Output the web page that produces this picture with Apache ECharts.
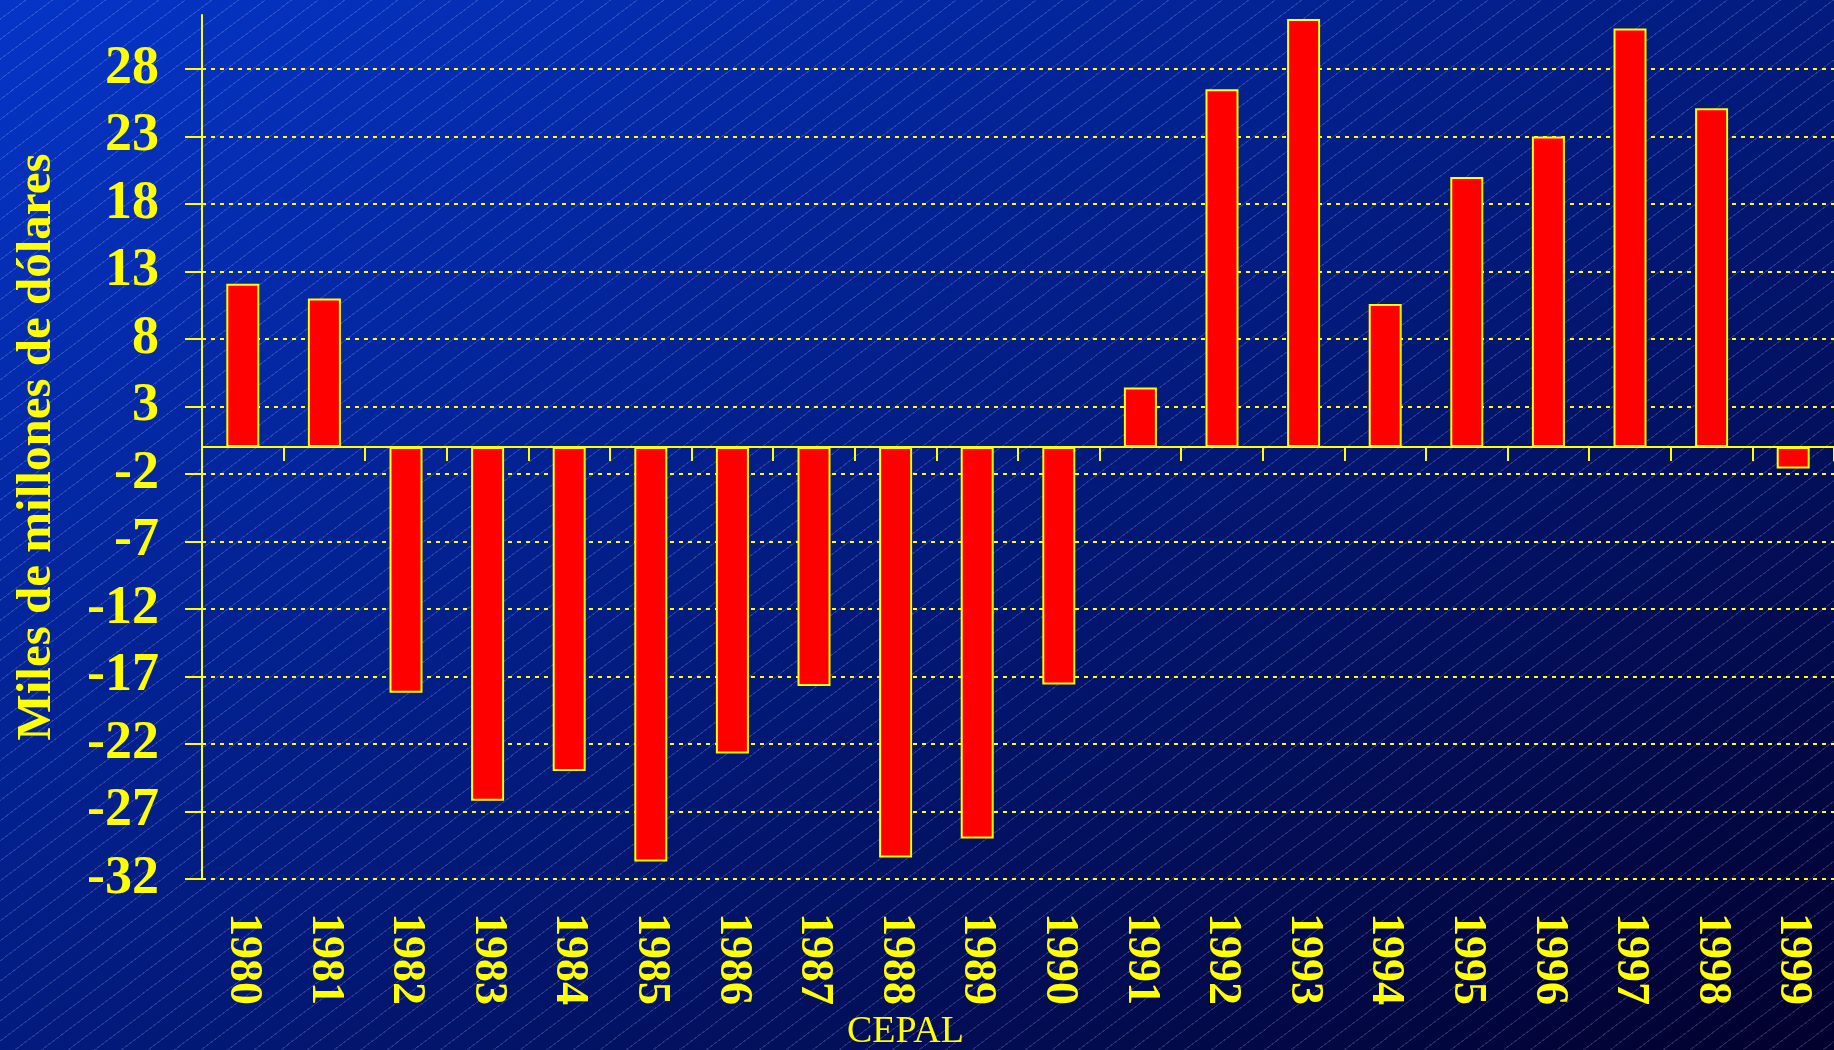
<!DOCTYPE html>
<html>
<head>
<meta charset="utf-8">
<title>Saldo - CEPAL</title>
<script src="https://cdn.jsdelivr.net/npm/echarts@6/dist/echarts.min.js"></script>
<style>
  html, body { margin: 0; padding: 0; }
  #chart {
    width: 1834px;
    height: 1050px;
    background:
      repeating-linear-gradient(143deg, transparent 0, transparent 15px,
        rgba(190, 200, 255, 0.2) 15px, rgba(190, 200, 255, 0.2) 16px),
      linear-gradient(to bottom right, #0535c8 0%, #021b7e 50%, #02002c 100%);
  }
</style>
</head>
<body>
<div id="chart"></div>
<script>
const years = ['1980', '1981', '1982', '1983', '1984', '1985', '1986', '1987', '1988', '1989',
  '1990', '1991', '1992', '1993', '1994', '1995', '1996', '1997', '1998', '1999'];
const saldo = [12.1, 11.0, -18.2, -26.2, -24.0, -30.7, -22.7, -17.7, -30.4, -29.0,
  -17.6, 4.4, 26.5, 31.7, 10.6, 20.0, 23.0, 31.0, 25.1, -1.6];
const yTicks = [-32, -27, -22, -17, -12, -7, -2, 3, 8, 13, 18, 23, 28];

const yellow = '#ffff00';
const serif = '"Liberation Serif", "Times New Roman", serif';

const chart = echarts.init(document.getElementById('chart'));

chart.setOption({
  backgroundColor: 'transparent',
  animation: false,
  grid: { left: 202, right: 0, top: 15, bottom: 171, outerBoundsMode: 'none' },
  xAxis: [
    {
      type: 'category',
      data: years,
      boundaryGap: true,
      axisLine: { show: true, onZero: true, lineStyle: { color: yellow, width: 2 } },
      axisTick: { show: true, length: 14, lineStyle: { color: yellow, width: 2 } },
      axisLabel: { show: false },
      splitLine: { show: false }
    },
    {
      type: 'category',
      data: years,
      position: 'bottom',
      axisLine: { show: false, onZero: false },
      axisTick: { show: false },
      axisLabel: {
        rotate: -90,
        margin: 34,
        color: yellow,
        fontFamily: serif,
        fontWeight: 'bold',
        fontSize: 46
      },
      splitLine: { show: false }
    }
  ],
  yAxis: {
    type: 'value',
    min: -32,
    max: 32,
    name: 'Miles de millones de dólares',
    nameLocation: 'middle',
    nameRotate: 90,
    nameGap: 140,
    nameTextStyle: { color: yellow, fontFamily: serif, fontWeight: 'bold', fontSize: 49 },
    axisLine: { show: true, lineStyle: { color: yellow, width: 2 } },
    axisTick: { show: true, length: 17, customValues: yTicks, lineStyle: { color: yellow, width: 2 } },
    axisLabel: {
      customValues: yTicks,
      margin: 43,
      color: yellow,
      fontFamily: serif,
      fontWeight: 'bold',
      fontSize: 54
    },
    splitLine: { show: true, lineStyle: { color: yellow, width: 2, type: [4, 5] } }
  },
  graphic: [
    {
      type: 'text',
      left: 847,
      top: 1013,
      style: { text: 'CEPAL', fill: yellow, font: '38px ' + serif }
    }
  ],
  series: [
    {
      type: 'bar',
      xAxisIndex: 0,
      data: saldo,
      barWidth: 33,
      itemStyle: { color: '#ff0000', borderColor: yellow, borderWidth: 2 }
    }
  ]
});
</script>
</body>
</html>
